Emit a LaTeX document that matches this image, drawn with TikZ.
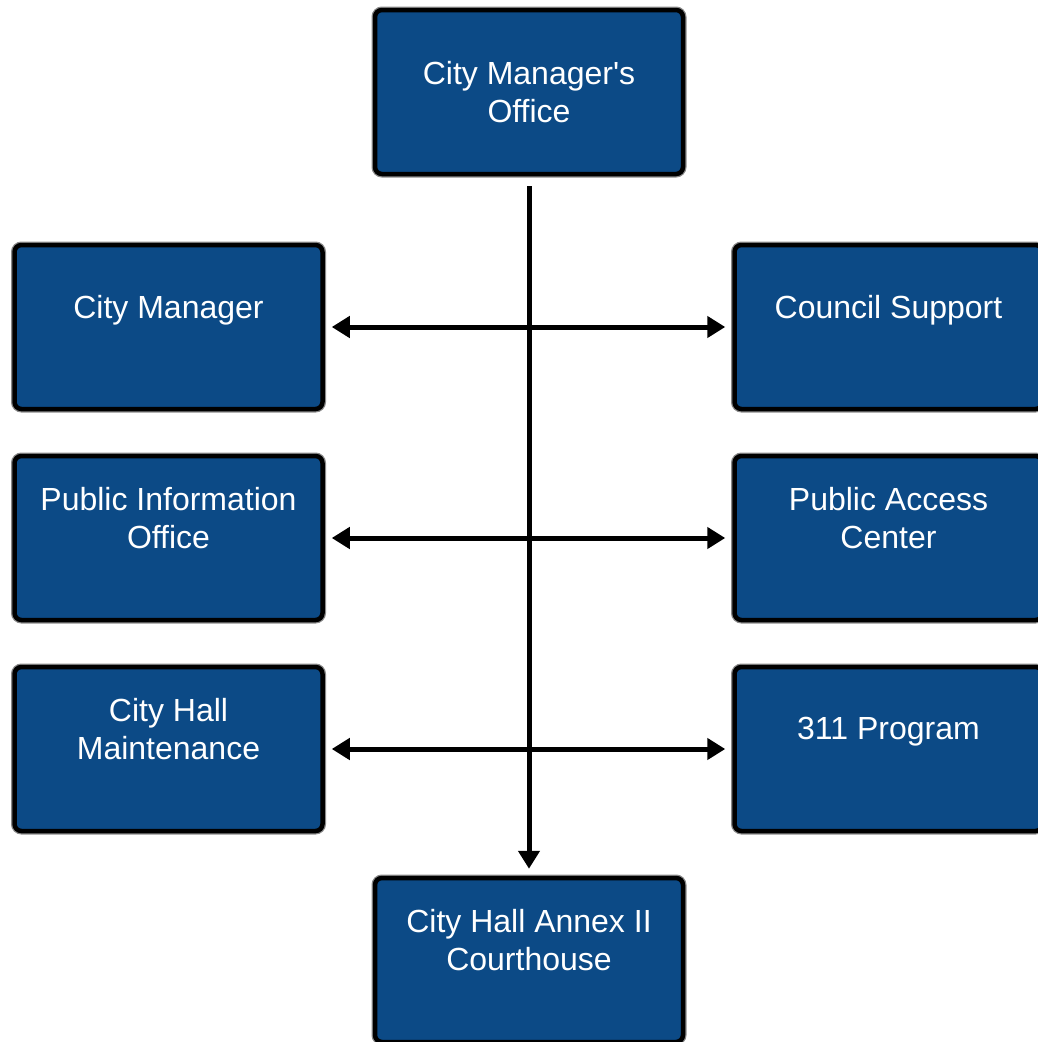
\documentclass[tikz,border=0pt]{standalone}
\usepackage{fontspec}
\setmainfont{Liberation Sans}
\usetikzlibrary{arrows.meta}
\definecolor{boxblue}{HTML}{0C4A86}
\definecolor{rimgray}{HTML}{8A8A8A}
\tikzset{
  unitbox/.style={rectangle, rounded corners=7pt, fill=boxblue, draw=black, line width=4.5pt,
    minimum width=308pt, minimum height=164pt, inner sep=0pt,
    preaction={draw=rimgray, line width=7pt}},
  unittext/.style={text=white, font=\fontsize{32pt}{38pt}\selectfont, align=center, inner sep=0pt},
  link/.style={line width=5pt, draw=black},
  tip/.style={-{Triangle[length=18pt,width=21pt]}},
  dtip/.style={{Triangle[length=18pt,width=21pt]}-{Triangle[length=18pt,width=21pt]}}
}
\begin{document}
\begin{tikzpicture}[x=1pt,y=1pt]
\useasboundingbox (0,0) rectangle (1037,-1042);
% boxes
\node[unitbox] (top) at (529,-92) {};
\node[unitbox] (cm) at (168.5,-327) {};
\node[unitbox] (pio) at (168.5,-538) {};
\node[unitbox] (chm) at (168.5,-749) {};
\node[unitbox] (cs) at (888.5,-327) {};
\node[unitbox] (pac) at (888.5,-538) {};
\node[unitbox] (p311) at (888.5,-749) {};
\node[unitbox] (bot) at (529,-960) {};
% texts
\node[unittext] (topt) at (top.center) {City Manager\textquotesingle s\\Office};
\node[unittext] (cmt) at ([yshift=17pt]cm.center) {City Manager};
\node[unittext] (piot) at ([yshift=20pt]pio.center) {Public Information\\Office};
\node[unittext] (chmt) at ([yshift=20pt]chm.center) {City Hall\\Maintenance};
\node[unittext] (cst) at ([yshift=17pt]cs.center) {Council Support};
\node[unittext] (pact) at ([yshift=20pt]pac.center) {Public Access\\Center};
\node[unittext] (p311t) at ([yshift=17pt]p311.center) {311 Program};
\node[unittext] (bott) at ([yshift=20pt]bot.center) {City Hall Annex II\\Courthouse};
% connectors
\draw[link, tip, shorten <=10pt, shorten >=7pt] (top.south) -- (bot.north);
\draw[link, dtip, shorten <=7pt, shorten >=7pt] (cm.east) -- (cs.west);
\draw[link, dtip, shorten <=7pt, shorten >=7pt] (pio.east) -- (pac.west);
\draw[link, dtip, shorten <=7pt, shorten >=7pt] (chm.east) -- (p311.west);
\end{tikzpicture}
\end{document}
